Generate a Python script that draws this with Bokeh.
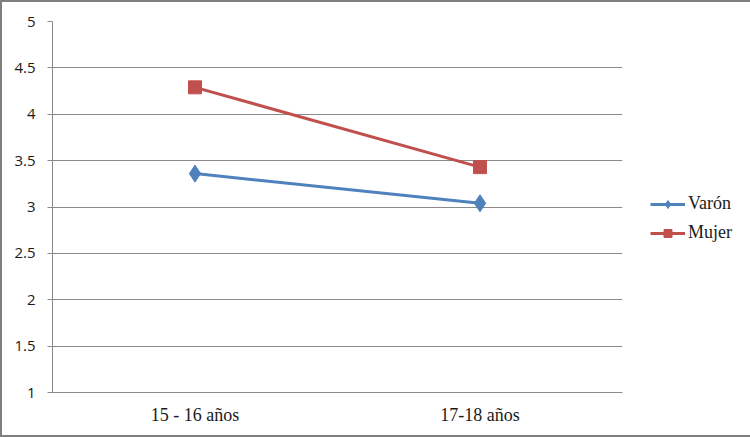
from bokeh.plotting import figure
from bokeh.models import FactorRange, Range1d, FixedTicker, Legend, LegendItem
from bokeh.embed import file_html
from bokeh.resources import INLINE

categories = ["15 - 16 años", "17-18 años"]
varon = [3.36, 3.04]
mujer = [4.29, 3.43]
y_ticks = [1, 1.5, 2, 2.5, 3, 3.5, 4, 4.5, 5]
y_tick_labels = ["1", "1.5", "2", "2.5", "3", "3.5", "4", "4.5", "5"]

p = figure(frame_width=570, frame_height=371, x_range=FactorRange(factors=categories, range_padding=0),
           y_range=Range1d(1, 5), output_backend="svg", toolbar_location=None,
           min_border_left=50, min_border_right=0, min_border_top=19, min_border_bottom=43)
p.styles = {"border": "2px solid #7f7f7f"}
p.outline_line_color = None
p.background_fill_color = "white"

grid_color = "#8a8a8a"
# y axis
p.yaxis.ticker = FixedTicker(ticks=y_ticks)
p.yaxis.major_label_overrides = {t: l for t, l in zip(y_ticks, y_tick_labels)}
p.yaxis.axis_line_color = grid_color
p.yaxis.major_tick_line_color = grid_color
p.yaxis.major_tick_out = 5
p.yaxis.major_tick_in = 0
p.yaxis.minor_tick_line_color = None
p.yaxis.major_label_text_font = "Open Sans"
p.yaxis.major_label_text_font_size = "15px"
p.yaxis.major_label_text_color = "#1a1a1a"
p.yaxis.major_label_standoff = 12
p.ygrid.ticker = FixedTicker(ticks=y_ticks)
p.ygrid.grid_line_color = grid_color
p.xgrid.grid_line_color = None

# category axis
p.xaxis.axis_line_color = grid_color
p.xaxis.major_tick_line_color = None
p.xaxis.major_label_text_font = "Liberation Serif"
p.xaxis.major_label_text_font_size = "18px"
p.xaxis.major_label_text_color = "#1a1a1a"
p.xaxis.major_label_standoff = 6

blue = "#4F81BD"
red = "#C0504D"
l1 = p.line(categories, varon, line_color=blue, line_width=3)
s1 = p.scatter(categories, varon, marker="diamond", size=17, fill_color=blue, line_color=blue)
l2 = p.line(categories, mujer, line_color=red, line_width=3)
s2 = p.scatter(categories, mujer, marker="square", size=13, fill_color=red, line_color=red)

legend = Legend(items=[LegendItem(label="Varón", renderers=[l1, s1]),
                       LegendItem(label="Mujer", renderers=[l2, s2])],
                location=(28, 149), orientation="vertical",
                label_text_font="Liberation Serif", label_text_font_size="18px",
                label_text_color="#1a1a1a", border_line_color=None,
                background_fill_alpha=0, glyph_width=35, spacing=8, padding=0,
                margin=21, label_standoff=3)
p.add_layout(legend, "right")

open("out.html", "w").write(file_html(p, INLINE))
